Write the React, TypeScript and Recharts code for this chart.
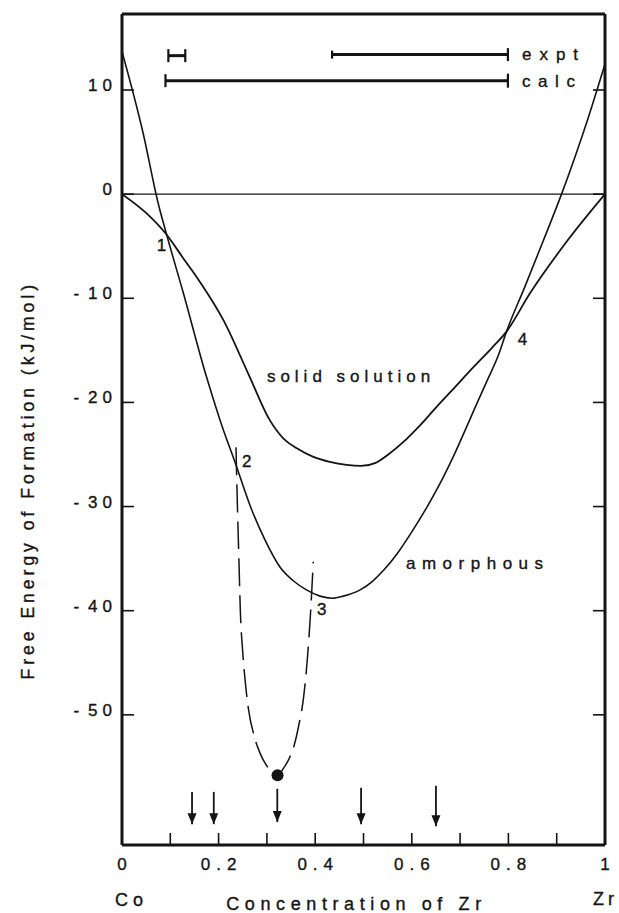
import React from 'react';
import { ComposedChart, Line, XAxis, YAxis, Scatter, ReferenceLine } from 'recharts';

// ---------- data ----------
const xTicks = [0, 0.1, 0.2, 0.3, 0.4, 0.5, 0.6, 0.7, 0.8, 0.9, 1];
const xLabelledTicks = [0, 0.2, 0.4, 0.6, 0.8, 1];
const xTickText = ['0', '0.2', '0.4', '0.6', '0.8', '1'];
const yTicks = [10, 0, -10, -20, -30, -40, -50];

const solidSolution: [number, number][] = [
  [0, 0], [0.051, -1.85], [0.0925, -3.9], [0.126, -6.1], [0.161, -8.4], [0.21, -12.1],
  [0.262, -17.3], [0.306, -21.7], [0.335, -23.5], [0.362, -24.4], [0.395, -25.2],
  [0.43, -25.7], [0.465, -26.0], [0.495, -26.1], [0.525, -25.8], [0.554, -24.9],
  [0.585, -23.7], [0.613, -22.4], [0.65, -20.5], [0.69, -18.5], [0.73, -16.5],
  [0.765, -14.8], [0.796, -13.2], [0.845, -9.5], [0.92, -4.6], [1, 0],
];

const amorphous: [number, number][] = [
  [0, 13.7], [0.044, 5.8], [0.075, -0.9], [0.0925, -3.9], [0.127, -9.5], [0.174, -17.4],
  [0.203, -21.7], [0.236, -26.0], [0.2685, -30.3], [0.296, -33.2], [0.327, -35.8],
  [0.354, -37.1], [0.382, -38.0], [0.41, -38.6], [0.435, -38.8], [0.458, -38.6],
  [0.493, -38.0], [0.518, -37.2], [0.542, -36.1], [0.57, -34.5], [0.599, -32.5],
  [0.632, -30.0], [0.665, -27.2], [0.69, -24.8], [0.714, -22.3], [0.73, -20.6],
  [0.755, -18.0], [0.779, -15.5], [0.796, -13.2], [0.834, -8.9], [0.872, -4.5],
  [0.91, 0], [0.938, 3.6], [0.965, 7.3], [1, 12.5],
];

const metastable: [number, number][] = [
  [0.236, -24.3], [0.239, -30], [0.242, -35], [0.245, -40], [0.25, -44], [0.256, -47.2],
  [0.262, -49.5], [0.274, -52.1], [0.286, -53.7], [0.303, -55.1], [0.322, -55.8],
  [0.335, -55.1], [0.346, -54.2], [0.356, -53.0], [0.366, -51.0], [0.376, -48.3],
  [0.384, -44.5], [0.39, -40.5], [0.396, -35.3],
];

const minimumPoint: [number, number][] = [[0.322, -55.8]];

const compoundX = [0.145, 0.19, 0.3215, 0.495, 0.65];
const compoundTop = [-57.4, -57.4, -57.1, -57.0, -56.8];
const compoundBottom = [-60.5, -60.5, -60.3, -60.5, -60.7];

const rangeStart = [0.096, 0.435, 0.09];
const rangeEnd = [0.131, 0.799, 0.799];
const rangeLevel = [13.3, 13.4, 10.9];

const pointLabelText = ['1', '2', '3', '4'];
const pointLabelX = [0.082, 0.258, 0.4135, 0.829];
const pointLabelY = [-5.5, -26.2, -40.4, -14.5];

const curveLabelText = ['solid solution', 'amorphous', 'expt', 'calc'];
const curveLabelX = [0.3, 0.588, 0.828, 0.828];
const curveLabelY = [-18.05, -36.0, 12.9, 10.3];

// ---------- styles ----------
const INK = '#141414';
const FONT = '"Liberation Sans", Arial, Helvetica, sans-serif';
const TEXT_STROKE = 0.35;
const capHalf: [number, number][] = [[6.5, 6.5], [4, 6.5], [6.5, 7]];
const curveLabelSpacing = [5, 6.5, 8, 7.6];

const toPts = (arr: [number, number][]) => arr.map(([x, y]) => ({ x, y }));

const LeftTick = (props: any) => {
  const { x, y, payload } = props;
  const v: number = payload.value;
  const neg = v < 0;
  const digits = String(Math.abs(v));
  return (
    <g>
      <line x1={x} x2={x + 12} y1={y} y2={y} stroke={INK} strokeWidth={1.6} />
      <text x={x - 5} y={y + 1} textAnchor="end" fontFamily={FONT} fontSize={17} letterSpacing={5}
        fill={INK} stroke={INK} strokeWidth={TEXT_STROKE}>
        {neg ? <tspan>-</tspan> : null}
        <tspan dx={neg ? 4 : 0}>{digits}</tspan>
      </text>
    </g>
  );
};

const RightTick = (props: any) => {
  const { x, y } = props;
  return <line x1={x - 12} x2={x} y1={y} y2={y} stroke={INK} strokeWidth={1.6} />;
};

const BottomTick = (props: any) => {
  const { x, y, payload } = props;
  const idx = xLabelledTicks.findIndex((t) => Math.abs(t - payload.value) < 1e-9);
  return (
    <g>
      <line x1={x} x2={x} y1={y} y2={y - 12} stroke={INK} strokeWidth={1.6} />
      {idx >= 0 ? (
        <text x={x + 3} y={y + 25} textAnchor="middle" fontFamily={FONT} fontSize={17} letterSpacing={6}
          fill={INK} stroke={INK} strokeWidth={TEXT_STROKE}>
          {xTickText[idx]}
        </text>
      ) : null}
    </g>
  );
};

const XTitle = (props: any) => {
  const vb = props.viewBox || { x: 122, y: 845, width: 483, height: 68 };
  return (
    <g fontFamily={FONT} fontSize={18} fill={INK} stroke={INK} strokeWidth={TEXT_STROKE}>
      <text x={vb.x - 7} y={vb.y + 61} letterSpacing={5}>Co</text>
      <text x={vb.x + vb.width * 0.4793 + 3} y={vb.y + 65} textAnchor="middle" letterSpacing={5.6}>
        Concentration of Zr
      </text>
      <text x={vb.x + vb.width - 12} y={vb.y + 60} letterSpacing={4}>Zr</text>
    </g>
  );
};

const YTitle = (props: any) => {
  const vb = props.viewBox || { x: 0, y: 14, width: 122, height: 831 };
  const cx = vb.x + 34;
  const cy = vb.y + vb.height * 0.561;
  return (
    <text
      transform={`translate(${cx},${cy}) rotate(-90)`}
      textAnchor="middle"
      fontFamily={FONT}
      fontSize={17.5}
      letterSpacing={4.0}
      fill={INK}
      stroke={INK}
      strokeWidth={TEXT_STROKE}
    >
      Free Energy of Formation (kJ/mol)
    </text>
  );
};

const ArrowDot = (props: any) => {
  const { cx, cy, index } = props;
  if (index !== 1 || cx == null) return <g key={`a${index}`} />;
  return <polygon key={`a${index}`} points={`${cx - 4.5},${cy - 11} ${cx + 4.5},${cy - 11} ${cx},${cy}`} fill={INK} />;
};

const makeCapDot = (i: number) => (props: any) => {
  const { cx, cy, index } = props;
  const h = capHalf[i][index === 0 ? 0 : 1];
  return <line key={`c${i}-${index}`} x1={cx} x2={cx} y1={cy - h} y2={cy + h} stroke={INK} strokeWidth={2.2} />;
};

export default function App() {
  const pointLabels = pointLabelText.map((t, i) => ({ x: pointLabelX[i], y: pointLabelY[i], text: t }));
  const curveLabels = curveLabelText.map((t, i) => ({ x: curveLabelX[i], y: curveLabelY[i], text: t, i }));
  return (
    <div style={{ position: 'absolute', left: 0, top: 0, width: 619, height: 913, background: '#fff' }}>
      <ComposedChart width={619} height={913} margin={{ top: 0, right: 0, bottom: 0, left: 0 }}>
        <XAxis
          xAxisId="b"
          type="number"
          dataKey="x"
          domain={[0, 1]}
          ticks={xTicks}
          interval={0}
          allowDataOverflow
          orientation="bottom"
          height={68}
          axisLine={{ stroke: INK, strokeWidth: 3 }}
          tickLine={false}
          tickSize={0}
          tickMargin={0}
          tick={<BottomTick />}
          label={XTitle}
        />
        <XAxis
          xAxisId="t"
          type="number"
          dataKey="x"
          domain={[0, 1]}
          allowDataOverflow
          orientation="top"
          height={14}
          axisLine={{ stroke: INK, strokeWidth: 3 }}
          tick={false}
          tickLine={false}
        />
        <YAxis
          yAxisId="l"
          type="number"
          dataKey="y"
          domain={[-62.5, 17.3]}
          ticks={yTicks}
          interval={0}
          allowDataOverflow
          width={122}
          axisLine={{ stroke: INK, strokeWidth: 3 }}
          tickLine={false}
          tickSize={0}
          tickMargin={0}
          tick={<LeftTick />}
          label={YTitle}
        />
        <YAxis
          yAxisId="r"
          orientation="right"
          type="number"
          domain={[-62.5, 17.3]}
          ticks={yTicks}
          interval={0}
          allowDataOverflow
          width={14}
          axisLine={{ stroke: INK, strokeWidth: 3 }}
          tickLine={false}
          tickSize={0}
          tickMargin={0}
          tick={<RightTick />}
        />
        <ReferenceLine xAxisId="b" yAxisId="l" y={0} stroke={INK} strokeWidth={1.1} />
        <Line xAxisId="b" yAxisId="l" data={toPts(solidSolution)} dataKey="y" type="monotone" stroke={INK}
          strokeWidth={1.8} dot={false} activeDot={false} isAnimationActive={false} />
        <Line xAxisId="b" yAxisId="l" data={toPts(amorphous)} dataKey="y" type="monotone" stroke={INK}
          strokeWidth={1.6} dot={false} activeDot={false} isAnimationActive={false} />
        <Line xAxisId="b" yAxisId="l" data={toPts(metastable)} dataKey="y" type="monotone" stroke={INK}
          strokeWidth={1.5} strokeDasharray="28 9" dot={false} activeDot={false} isAnimationActive={false} />
        {rangeStart.map((s, i) => (
          <Line key={`r${i}`} xAxisId="b" yAxisId="l"
            data={[{ x: s, y: rangeLevel[i] }, { x: rangeEnd[i], y: rangeLevel[i] }]}
            dataKey="y" type="linear" stroke={INK} strokeWidth={3}
            dot={makeCapDot(i)} activeDot={false} isAnimationActive={false} />
        ))}
        {compoundX.map((cx, i) => (
          <Line key={`k${i}`} xAxisId="b" yAxisId="l"
            data={[{ x: cx, y: compoundTop[i] }, { x: cx, y: compoundBottom[i] }]}
            dataKey="y" type="linear" stroke={INK} strokeWidth={1.8}
            dot={ArrowDot} activeDot={false} isAnimationActive={false} />
        ))}
        <Scatter xAxisId="b" yAxisId="l" data={toPts(minimumPoint)} dataKey="y" isAnimationActive={false}
          shape={(p: any) => <circle cx={p.cx} cy={p.cy} r={6} fill={INK} />} />
        <Scatter xAxisId="b" yAxisId="l" data={pointLabels} dataKey="y" isAnimationActive={false}
          shape={(p: any) => (
            <text x={p.cx} y={p.cy} textAnchor="middle" fontFamily={FONT} fontSize={17} fill={INK}
              stroke={INK} strokeWidth={TEXT_STROKE}>
              {p.payload.text}
            </text>
          )} />
        <Scatter xAxisId="b" yAxisId="l" data={curveLabels} dataKey="y" isAnimationActive={false}
          shape={(p: any) => (
            <text x={p.cx} y={p.cy} fontFamily={FONT} fontSize={17} letterSpacing={curveLabelSpacing[p.payload.i]}
              fill={INK} stroke={INK} strokeWidth={TEXT_STROKE}>
              {p.payload.text}
            </text>
          )} />
      </ComposedChart>
    </div>
  );
}
